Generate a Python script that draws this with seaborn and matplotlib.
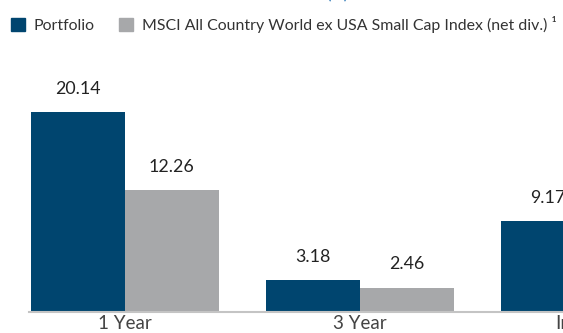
import numpy as np
import pandas as pd
import matplotlib
matplotlib.use("Agg")
import matplotlib.pyplot as plt
import seaborn as sns

# Average annual total returns (%)
periods = ["1 Year", "3 Year", "Inception"]
portfolio = [20.14, 3.18, 9.17]
index_returns = [12.26, 2.46, np.nan]
series_names = ["Portfolio", "MSCI All Country World ex USA Small Cap Index (net div.) \u00b9"]

df = pd.DataFrame({
    "period": periods * 2,
    "series": [series_names[0]] * 3 + [series_names[1]] * 3,
    "value": portfolio + index_returns,
})

sns.set_theme(style="white")
plt.rcParams["font.family"] = ["Lato", "DejaVu Sans"]

navy = "#00456f"
grey = "#a7a8aa"

W, H = 563, 333
fig = plt.figure(figsize=(W / 100, H / 100), dpi=100)
base_px = 312
group_px = 235
first_center_px = 124.5
left_px = 29
right_px = first_center_px + group_px * 2.5  # plot area runs past the right edge
ax = fig.add_axes([left_px / W, (H - base_px) / H, (right_px - left_px) / W, base_px / H])

sns.barplot(data=df, x="period", y="value", hue="series", order=periods,
            hue_order=series_names, palette=[navy, grey], width=0.8,
            saturation=1, linewidth=0, ax=ax, legend=True)

px_per_unit = 9.93
ax.set_ylim(0, base_px / px_per_unit)
ax.set_xlim((left_px - first_center_px) / group_px, 2.5)

for cont in ax.containers:
    labels = ["" if np.isnan(v) else f"{v:.2f}" for v in cont.datavalues]
    ax.bar_label(cont, labels=labels, padding=11, fontsize=12.8, color="#222222")

ax.set_xlabel("")
ax.set_ylabel("")
ax.set_yticks([])
for s in ["top", "left", "right"]:
    ax.spines[s].set_visible(False)
ax.spines["bottom"].set_color("#c4c4c4")
ax.spines["bottom"].set_linewidth(1.5)
ax.tick_params(axis="x", length=0, pad=2, labelsize=13.5, labelcolor="#444444")

ax.legend_.remove()
handles = [plt.Rectangle((0, 0), 1, 1, color=navy), plt.Rectangle((0, 0), 1, 1, color=grey)]
fig.legend(handles, series_names, loc="center left", bbox_to_anchor=(11 / W, 1 - 24.5 / H),
           ncol=2, frameon=False, fontsize=11.4, handlelength=0.9, handleheight=0.95,
           handletextpad=0.55, columnspacing=1.5, labelcolor="#333333",
           borderpad=0, borderaxespad=0)

# chart heading sits above the visible area
fig.text(348 / W, 1 + 1 / H, "(%)", ha="right", va="baseline", fontsize=12, color="#1f6fb2")

fig.savefig("out.png", dpi=100)
